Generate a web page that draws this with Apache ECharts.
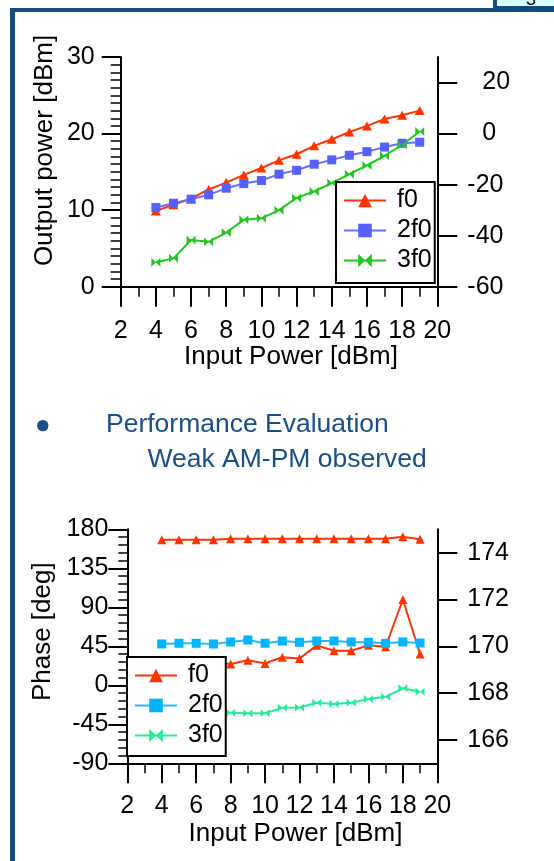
<!DOCTYPE html>
<html>
<head>
<meta charset="utf-8">
<script src="https://cdn.jsdelivr.net/npm/echarts@6/dist/echarts.min.js"></script>
<style>
html,body{margin:0;padding:0;background:#fff;}
#c{width:554px;height:861px;}
</style>
</head>
<body>
<div id="c"></div>
<script>
// ---- data ----
const inputPower = [4,5,6,7,8,9,10,11,12,13,14,15,16,17,18,19];
// top chart: output power
const outF0  = [9.9,10.7,11.5,12.7,13.6,14.6,15.5,16.5,17.3,18.4,19.25,20.2,21.0,21.9,22.4,23.0];       // left axis
const out2f0 = [-29.0,-27.3,-25.7,-24.0,-21.4,-19.6,-18.4,-15.9,-14.4,-12.0,-10.3,-8.5,-7.1,-5.3,-3.8,-3.4]; // right axis
const out3f0 = [-50.4,-48.9,-41.7,-42.4,-38.8,-33.8,-33.2,-30.0,-25.2,-22.7,-19.4,-15.9,-12.5,-8.7,-4.4,0.8]; // right axis
// bottom chart: phase
const phF0      = [168,168,168,168,169,169,169,169,169,169,169,169,169,169,171.3,168.5];                     // left axis
const phF0Right = [169.3,169.2,169.3,169.3,169.24,169.40,169.27,169.53,169.48,170.04,169.81,169.81,170.04,169.98,172.0,169.67]; // right axis
const ph2f0     = [47.7,48.5,48.5,47.7,50.0,52.3,48.5,51.1,49.6,51.1,51.1,50.0,49.6,48.5,50.0,48.8];
const ph3f0     = [-32,-31,-32,-31.6,-31.6,-32.3,-32.3,-25.9,-25.6,-20.1,-21.6,-20.1,-15.8,-13.2,-3.5,-7.4];
// tick labels
const topRightTicks = [-60,-40,-20,0,20];
const bottomRightTicks = [166,168,170,172,174];
const legendNames = ['f0','2f0','3f0'];

const FONT = "'Liberation Sans', Arial, sans-serif";
const BLUE_DARK = '#0f4c81';
const TEXT_BLUE = '#1a4e87';
const pair = arr => inputPower.map((x,i)=>[x, arr[i]]);
const bowtie = 'path://M0,0 L5,5 L0,10 Z M10,0 L10,10 L5,5 Z';

const axisLine = {show:true, onZero:false, lineStyle:{color:'#000', width:2}};
const lbl = (m, extra) => Object.assign({fontSize:25, color:'#000', fontFamily:FONT, margin:m}, extra||{});

function xAx(grid, margin){
  return {type:'value', gridIndex:grid, min:2, max:20, interval:2,
    axisLine:axisLine, splitLine:{show:false},
    axisTick:{show:true, inside:false, length:20, lineStyle:{color:'#000', width:2}},
    minorTick:{show:true, splitNumber:2, length:10, lineStyle:{color:'#000', width:1.5}},
    axisLabel:lbl(margin)};
}

const option = {
  animation:false,
  backgroundColor:'#fff',
  textStyle:{fontFamily:FONT},
  grid:[
    {left:120.7, right:116.7, top:57, bottom:574.3},
    {left:127.3, right:116.7, top:529.3, bottom:97.7}
  ],
  xAxis:[ xAx(0,32), xAx(1,30) ],
  yAxis:[
    {type:'value', gridIndex:0, min:0, max:30, interval:10, position:'left',
     axisLine:axisLine, splitLine:{show:false},
     axisTick:{show:true, length:19, lineStyle:{color:'#000', width:2}},
     minorTick:{show:true, splitNumber:10, length:10, lineStyle:{color:'#000', width:1.5}},
     axisLabel:lbl(26)},
    {type:'value', gridIndex:0, min:-60, max:30, interval:20, position:'right',
     axisLine:axisLine, splitLine:{show:false},
     axisTick:{show:true, length:20, customValues:topRightTicks, lineStyle:{color:'#000', width:2}},
     axisLabel:lbl(30, {customValues:topRightTicks, align:'left',
       formatter: v => (v < 0 ? '{n|' + v + '}' : '{p|' + v + '}'),
       rich:{n:{fontSize:25, fontFamily:FONT, color:'#000'},
             p:{fontSize:25, fontFamily:FONT, color:'#000', padding:[0,0,0,15]}}})},
    {type:'value', gridIndex:1, min:-90, max:180, interval:45, position:'left',
     axisLine:axisLine, splitLine:{show:false},
     axisTick:{show:true, length:19, lineStyle:{color:'#000', width:2}},
     minorTick:{show:true, splitNumber:5, length:9, lineStyle:{color:'#000', width:1.5}},
     axisLabel:lbl(19)},
    {type:'value', gridIndex:1, min:165, max:175, interval:1, position:'right',
     axisLine:axisLine, splitLine:{show:false},
     axisTick:{show:true, length:20, customValues:bottomRightTicks, lineStyle:{color:'#000', width:2}},
     axisLabel:lbl(30, {customValues:bottomRightTicks, align:'left'})}
  ],
  legend:[
    {orient:'vertical', left:336, top:182, padding:[6,3,10,7],
     itemWidth:42, itemHeight:17, itemGap:5,
     backgroundColor:'#fff', borderColor:'#000', borderWidth:2,
     textStyle:{fontSize:25, lineHeight:25, color:'#000', fontFamily:FONT, padding:[0,0,0,6]},
     data:legendNames, selectedMode:false},
    {orient:'vertical', left:127, top:657, padding:[6,3,8,7],
     itemWidth:42, itemHeight:17, itemGap:5,
     backgroundColor:'#fff', borderColor:'#000', borderWidth:2,
     textStyle:{fontSize:25, lineHeight:25, color:'#000', fontFamily:FONT, padding:[0,0,0,6]},
     formatter: n => n.split(' ')[0],
     data:legendNames.map(n => n + ' (phase)'), selectedMode:false}
  ],
  series:[
    {name:'f0', type:'line', xAxisIndex:0, yAxisIndex:0, data:pair(outF0),
     symbol:'triangle', symbolSize:[10,9], itemStyle:{color:'#ff3300'}, lineStyle:{color:'#ff3300', width:2}},
    {name:'2f0', type:'line', xAxisIndex:0, yAxisIndex:1, data:pair(out2f0),
     symbol:'rect', symbolSize:9, itemStyle:{color:'#5560ff'}, lineStyle:{color:'#6670ff', width:2}},
    {name:'3f0', type:'line', xAxisIndex:0, yAxisIndex:1, data:pair(out3f0),
     symbol:bowtie, symbolSize:9, itemStyle:{color:'#1ec81e'}, lineStyle:{color:'#1ec81e', width:2}},
    {name:'f0 (phase)', type:'line', xAxisIndex:1, yAxisIndex:2, data:pair(phF0),
     symbol:'triangle', symbolSize:[9,9], itemStyle:{color:'#ff3300'}, lineStyle:{color:'#ff3300', width:2}},
    {name:'f0 (phase)', type:'line', xAxisIndex:1, yAxisIndex:3, data:pair(phF0Right),
     symbol:'triangle', symbolSize:[9,9], itemStyle:{color:'#ff3300'}, lineStyle:{color:'#ff3300', width:2}},
    {name:'2f0 (phase)', type:'line', xAxisIndex:1, yAxisIndex:2, data:pair(ph2f0),
     symbol:'rect', symbolSize:9, itemStyle:{color:'#00b4ff'}, lineStyle:{color:'#20bcff', width:2}},
    {name:'3f0 (phase)', type:'line', xAxisIndex:1, yAxisIndex:2, data:pair(ph3f0),
     symbol:bowtie, symbolSize:[9,8], itemStyle:{color:'#22ee99'}, lineStyle:{color:'#22ee99', width:2}}
  ],
  graphic:[
    // frame
    {type:'rect', shape:{x:10, y:8, width:544, height:4}, style:{fill:BLUE_DARK}, silent:true},
    {type:'rect', shape:{x:10, y:8, width:5, height:853}, style:{fill:BLUE_DARK}, silent:true},
    // small box top right
    {type:'rect', shape:{x:495, y:-2, width:62, height:10}, style:{fill:'#d9ffff', stroke:BLUE_DARK, lineWidth:4}, silent:true},
    {type:'text', x:531, y:9, style:{text:'3', fontSize:18, fontFamily:FONT, fill:'#000', align:'center', verticalAlign:'bottom'}, silent:true},
    // axis titles
    {type:'text', x:44.6, y:150.5, rotation:Math.PI/2, style:{text:'Output power [dBm]', fontSize:26, fontFamily:FONT, fill:'#000', align:'center', verticalAlign:'middle'}, silent:true},
    {type:'text', x:291, y:357, style:{text:'Input Power [dBm]', fontSize:26, fontFamily:FONT, fill:'#000', align:'center', verticalAlign:'middle'}, silent:true},
    {type:'text', x:43, y:631.7, rotation:Math.PI/2, style:{text:'Phase [deg]', fontSize:26, fontFamily:FONT, fill:'#000', align:'center', verticalAlign:'middle'}, silent:true},
    {type:'text', x:295.5, y:834, style:{text:'Input Power [dBm]', fontSize:26, fontFamily:FONT, fill:'#000', align:'center', verticalAlign:'middle'}, silent:true},
    // bullet text
    {type:'circle', shape:{cx:42.8, cy:425.6, r:5.7}, style:{fill:TEXT_BLUE}, silent:true},
    {type:'text', x:106, y:424.5, style:{text:'Performance Evaluation', fontSize:26.5, fontFamily:FONT, fill:TEXT_BLUE, align:'left', verticalAlign:'middle'}, silent:true},
    {type:'text', x:147.5, y:459.5, style:{text:'Weak AM-PM observed', fontSize:26.5, fontFamily:FONT, fill:TEXT_BLUE, align:'left', verticalAlign:'middle'}, silent:true}
  ]
};
const chart = echarts.init(document.getElementById('c'), null, {renderer:'canvas'});
chart.setOption(option);
</script>
</body>
</html>
